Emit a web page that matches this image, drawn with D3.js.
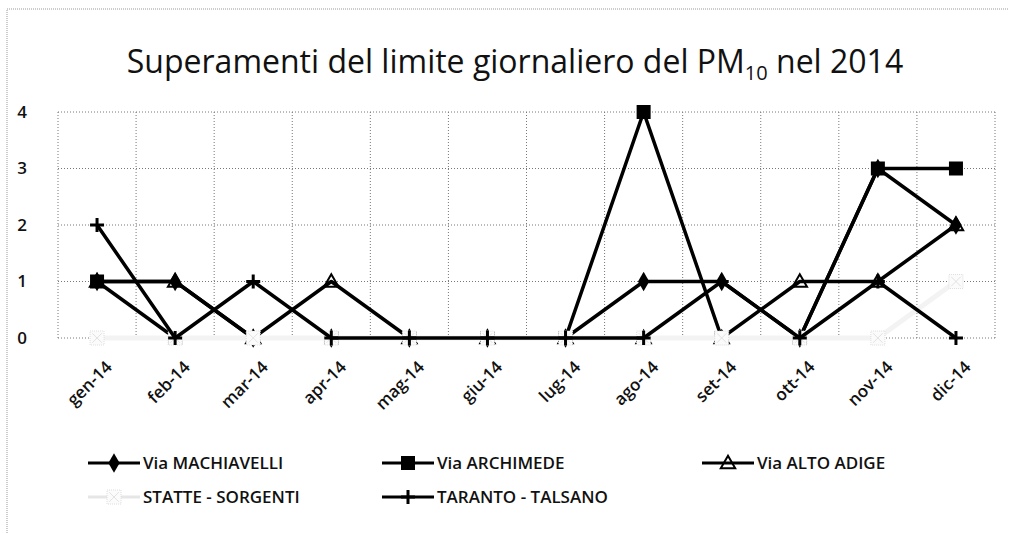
<!DOCTYPE html>
<html>
<head>
<meta charset="utf-8">
<script src="https://cdn.jsdelivr.net/npm/d3@7"></script>
<style>
  body { margin: 0; background: #fff; }
  svg { display: block; }
  text { font-family: "Open Sans", "Noto Sans", sans-serif; fill: #111; }
</style>
</head>
<body>
<div id="chart"></div>
<script>
// dati
const mesi = ["gen-14","feb-14","mar-14","apr-14","mag-14","giu-14","lug-14","ago-14","set-14","ott-14","nov-14","dic-14"];
const machiavelli = [1,1,0,0,0,0,0,1,1,0,3,2];
const archimede   = [1,0,0,0,0,0,0,4,0,0,3,3];
const altoAdige   = [1,1,0,1,0,0,0,0,0,1,1,2];
const statte      = [0,0,0,0,0,0,0,0,0,0,0,1];
const talsano     = [2,0,1,0,0,0,0,0,1,0,1,0];
const yTicks = [0,1,2,3,4];

const serie = [
  {nome: "Via MACHIAVELLI",   valori: machiavelli, col: "#000", mark: "diamond"},
  {nome: "Via ARCHIMEDE",     valori: archimede,   col: "#000", mark: "square"},
  {nome: "Via ALTO ADIGE",    valori: altoAdige,   col: "#000", mark: "triangle"},
  {nome: "STATTE - SORGENTI", valori: statte,      col: "#f3f3f3", mark: "star"},
  {nome: "TARANTO - TALSANO", valori: talsano,     col: "#000", mark: "plus"}
];

const W = 1009, H = 533;
const plot = {l: 58, r: 995, t: 112, b: 338};

const svg = d3.select("#chart").append("svg").attr("width", W).attr("height", H);

// bordo esterno tratteggiato
svg.append("path")
  .attr("d", "M7,533 L7,9 L1009,9")
  .attr("fill", "none").attr("stroke", "#999").attr("stroke-width", 1)
  .attr("stroke-dasharray", "1,1");

// titolo
const titolo = svg.append("text")
  .attr("x", 515).attr("y", 73)
  .attr("text-anchor", "middle")
  .style("font-size", "32px").style("font-weight", 500);
titolo.append("tspan").text("Superamenti  del limite giornaliero del PM");
titolo.append("tspan").text("10").style("font-size", "20px").attr("dy", 7);
titolo.append("tspan").text(" nel 2014").attr("dy", -7);

const x = d3.scaleBand().domain(mesi).range([plot.l, plot.r]).padding(0);
const y = d3.scaleLinear().domain([0, 4]).range([plot.b, plot.t]);
const cx = d => x(d) + x.bandwidth() / 2;

// griglia
const griglia = svg.append("g").attr("stroke", "#777").attr("stroke-width", 1)
  .attr("stroke-dasharray", "1,2").attr("fill", "none");
griglia.selectAll("line.h").data(yTicks).join("line")
  .attr("x1", plot.l).attr("x2", plot.r)
  .attr("y1", d => y(d)).attr("y2", d => y(d));
griglia.selectAll("line.v").data(mesi.concat(["fine"])).join("line")
  .attr("x1", (d, i) => plot.l + i * x.bandwidth())
  .attr("x2", (d, i) => plot.l + i * x.bandwidth())
  .attr("y1", plot.t).attr("y2", plot.b);

// asse y
const asseY = svg.append("g").attr("transform", `translate(${plot.l},0)`)
  .call(d3.axisLeft(y).tickValues(yTicks).tickFormat(d3.format("d")).tickSize(0).tickPadding(31));
asseY.select(".domain").remove();
asseY.selectAll("text").style("font-size", "17px").style("font-weight", 600)
  .style("font-family", "'Open Sans', sans-serif").attr("fill", "#111");

// asse x
const asseX = svg.append("g").attr("transform", `translate(0,${plot.b})`)
  .call(d3.axisBottom(x).tickSize(0).tickPadding(0));
asseX.select(".domain").remove();
asseX.selectAll("text")
  .style("font-size", "17px").style("font-weight", 600)
  .style("font-family", "'Open Sans', sans-serif").attr("fill", "#111")
  .attr("text-anchor", "end")
  .attr("dy", 0)
  .attr("transform", "translate(16,30) rotate(-45)");

// simboli
function simbolo(g, tipo, col, px, py) {
  if (tipo === "diamond") {
    g.append("path").attr("d", d3.symbol(d3.symbolDiamond, 110)()).attr("fill", col)
      .attr("transform", `translate(${px},${py})`);
  } else if (tipo === "square") {
    g.append("rect").attr("x", px - 7).attr("y", py - 7).attr("width", 14).attr("height", 14).attr("fill", col);
  } else if (tipo === "triangle") {
    g.append("path").attr("d", d3.symbol(d3.symbolTriangle, 90)()).attr("fill", "none")
      .attr("stroke", col).attr("stroke-width", 2).attr("transform", `translate(${px},${py + 1})`);
  } else if (tipo === "star") {
    g.append("rect").attr("x", px - 7).attr("y", py - 7).attr("width", 14).attr("height", 14)
      .attr("fill", "#fbfbfb").attr("stroke", "#dedede").attr("stroke-dasharray", "1,1");
    g.append("path").attr("d", d3.symbol(d3.symbolX, 60)()).attr("fill", "none")
      .attr("stroke", "#e2e2e2").attr("stroke-width", 1).attr("transform", `translate(${px},${py})`);
  } else if (tipo === "plus") {
    g.append("path").attr("d", `M${px - 7},${py}H${px + 7}M${px},${py - 7}V${py + 7}`)
      .attr("stroke", col).attr("stroke-width", 3);
  }
}

const linea = d3.line().x((d, i) => cx(mesi[i])).y(d => y(d));

serie.forEach(s => {
  const g = svg.append("g");
  g.append("path").datum(s.valori).attr("d", linea)
    .attr("fill", "none").attr("stroke", s.col).attr("stroke-width", s.mark === "star" ? 5 : 3.5)
    .attr("stroke-linejoin", "round");
  s.valori.forEach((v, i) => simbolo(g, s.mark, s.col, cx(mesi[i]), y(v)));
});

// legenda
const colonne = [88, 382, 702];
const righe = [463, 497];
const leg = svg.append("g");
serie.forEach((s, i) => {
  const lx = colonne[i % 3], ly = righe[Math.floor(i / 3)];
  const g = leg.append("g");
  g.append("line").attr("x1", lx).attr("x2", lx + 52).attr("y1", ly).attr("y2", ly)
    .attr("stroke", s.mark === "star" ? "#e6e6e6" : s.col).attr("stroke-width", 3);
  simbolo(g, s.mark, s.col, lx + 26, ly);
  g.append("text").attr("x", lx + 55).attr("y", ly + 6)
    .style("font-size", "17px").style("font-weight", 600).text(s.nome);
});
</script>
</body>
</html>
